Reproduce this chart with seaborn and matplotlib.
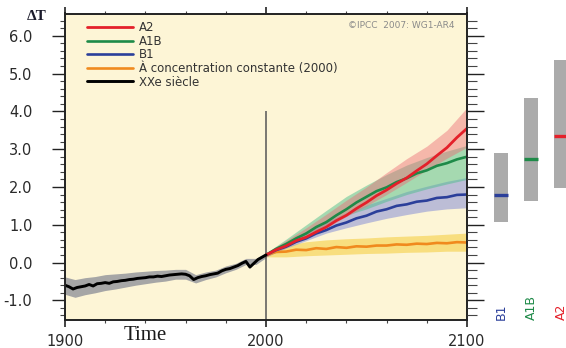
import matplotlib
matplotlib.use('Agg')
import matplotlib.pyplot as plt
from matplotlib.ticker import MultipleLocator, FormatStrFormatter
import seaborn as sns

# --- data ---
# 20th century observed record (every 2 years)
hist_years = list(range(1900, 2001, 2))
hist_temp = [-0.60, -0.64, -0.70, -0.66, -0.64, -0.62, -0.58, -0.62, -0.56, -0.55,
             -0.53, -0.55, -0.51, -0.50, -0.48, -0.47, -0.45, -0.44, -0.42, -0.41,
             -0.40, -0.38, -0.38, -0.36, -0.37, -0.35, -0.33, -0.32, -0.31, -0.30,
             -0.31, -0.35, -0.45, -0.40, -0.37, -0.35, -0.32, -0.30, -0.28, -0.22,
             -0.18, -0.16, -0.12, -0.08, -0.02, 0.03, -0.12, -0.02, 0.08, 0.14, 0.20]
hist_band_years = list(range(1900, 2001, 5))
hist_lo = [-0.84, -0.92, -0.85, -0.80, -0.74, -0.70, -0.65, -0.60, -0.56, -0.52, -0.49,
           -0.44, -0.44, -0.54, -0.45, -0.38, -0.27, -0.18, -0.05, -0.05, 0.13]
hist_hi = [-0.38, -0.45, -0.40, -0.37, -0.32, -0.30, -0.28, -0.25, -0.23, -0.21, -0.20,
           -0.18, -0.18, -0.32, -0.25, -0.20, -0.09, -0.02, 0.11, 0.11, 0.27]

# scenario means (every 5 years)
proj_years = list(range(2000, 2101, 5))
a2 = [0.20, 0.34, 0.44, 0.58, 0.67, 0.81, 0.94, 1.11, 1.25, 1.43, 1.59,
      1.77, 1.92, 2.09, 2.24, 2.43, 2.61, 2.83, 3.04, 3.31, 3.55]
a1b = [0.20, 0.36, 0.49, 0.64, 0.77, 0.94, 1.07, 1.25, 1.41, 1.59, 1.74,
       1.89, 1.99, 2.13, 2.23, 2.36, 2.44, 2.56, 2.63, 2.73, 2.80]
b1 = [0.20, 0.33, 0.42, 0.55, 0.64, 0.77, 0.86, 0.98, 1.06, 1.17, 1.24,
      1.35, 1.41, 1.50, 1.54, 1.61, 1.64, 1.71, 1.73, 1.79, 1.80]
const = [0.20, 0.28, 0.29, 0.34, 0.33, 0.38, 0.36, 0.41, 0.39, 0.43, 0.42,
         0.45, 0.45, 0.48, 0.47, 0.50, 0.49, 0.52, 0.51, 0.54, 0.53]

# +/- 1 sd ranges (every 10 years)
band_years = list(range(2000, 2101, 10))
a2_lo = [0.15, 0.40, 0.66, 0.92, 1.22, 1.50, 1.80, 2.12, 2.45, 2.76, 3.05]
a2_hi = [0.25, 0.58, 0.92, 1.28, 1.65, 2.00, 2.38, 2.75, 3.08, 3.50, 4.10]
a1b_lo = [0.15, 0.45, 0.72, 1.00, 1.25, 1.42, 1.62, 1.80, 1.95, 2.08, 2.20]
a1b_hi = [0.25, 0.62, 1.00, 1.38, 1.75, 2.05, 2.33, 2.58, 2.78, 2.95, 3.10]
b1_lo = [0.15, 0.38, 0.58, 0.78, 0.92, 1.05, 1.17, 1.27, 1.36, 1.42, 1.45]
b1_hi = [0.25, 0.55, 0.82, 1.08, 1.32, 1.52, 1.70, 1.88, 2.02, 2.15, 2.25]
const_lo = [0.15, 0.15, 0.18, 0.20, 0.22, 0.24, 0.25, 0.27, 0.28, 0.30, 0.30]
const_hi = [0.25, 0.45, 0.55, 0.60, 0.63, 0.65, 0.68, 0.70, 0.72, 0.75, 0.78]

# likely ranges at 2100 (bars on the right)
bar_labels = ['B1', 'A1B', 'A2']
bar_lo = [1.06, 1.64, 1.96]
bar_hi = [2.89, 4.36, 5.37]
bar_best = [1.79, 2.75, 3.36]

labels = ['A2', 'A1B', 'B1', 'À concentration constante (2000)', 'XXe siècle']

RED, GREEN, BLUE, ORANGE = '#E4202A', '#1E8A48', '#2B3F9A', '#F08A1E'

sns.set_style('ticks')
plt.rcParams['font.family'] = ['DejaVu Sans']

fig = plt.figure(figsize=(5.66, 3.48), dpi=100)
ax = fig.add_axes([65 / 566, 1 - 320 / 348, 402 / 566, 306.5 / 348])
ax.set_facecolor('#FDF5D6')

# uncertainty bands
ax.fill_between(hist_band_years, hist_lo, hist_hi, color='#A6A6A6', alpha=1.0, lw=0)
ax.fill_between(band_years, const_lo, const_hi, color='#F5CF45', alpha=0.6, lw=0)
ax.fill_between(band_years, b1_lo, b1_hi, color='#8890D6', alpha=0.55, lw=0)
ax.fill_between(band_years, a1b_lo, a1b_hi, color='#4EBE8C', alpha=0.5, lw=0)
ax.fill_between(band_years, a2_lo, a2_hi, color='#EC6C75', alpha=0.45, lw=0)

ax.vlines(2000, -2, 4.0, color='#555555', lw=1.1)

# scenario lines
sns.lineplot(x=proj_years, y=const, color=ORANGE, lw=1.9, label=labels[3], ax=ax)
sns.lineplot(x=proj_years, y=b1, color=BLUE, lw=1.9, label=labels[2], ax=ax)
sns.lineplot(x=proj_years, y=a1b, color=GREEN, lw=1.9, label=labels[1], ax=ax)
sns.lineplot(x=proj_years, y=a2, color=RED, lw=2.0, label=labels[0], ax=ax)
sns.lineplot(x=hist_years, y=hist_temp, color='black', lw=2.1, label=labels[4], ax=ax)

ax.set_xlim(1900, 2100)
ax.set_ylim(-1.52, 6.59)
ax.set_xticks([1900, 2000, 2100])
ax.xaxis.set_minor_locator(MultipleLocator(20))
ax.yaxis.set_major_locator(MultipleLocator(1.0))
ax.yaxis.set_minor_locator(MultipleLocator(0.2))
ax.yaxis.set_major_formatter(FormatStrFormatter('%.1f'))
ax.set_xlabel('')
ax.set_ylabel('')

for s in ax.spines.values():
    s.set_visible(True)
    s.set_linewidth(1.4)
    s.set_color('#222222')

ax.tick_params(axis='y', which='major', direction='out', length=9.5, width=1.0,
               left=True, right=False, labelsize=10.5, labelcolor='#2a2a2a', pad=14, color='#222222')
ax.tick_params(axis='y', which='minor', direction='out', length=3.6, width=0.8,
               left=True, right=False, color='#444444')
ax.tick_params(axis='x', which='major', direction='out', length=5, width=1.2,
               top=True, bottom=True, labelsize=10.5, labelcolor='#2a2a2a', pad=5, color='#222222')
ax.tick_params(axis='x', which='minor', direction='out', length=2.2, width=0.8,
               top=True, bottom=True, color='#444444')

# legend in the original order
handles, labs = ax.get_legend_handles_labels()
order = [labs.index(l) for l in labels]
leg = ax.legend([handles[i] for i in order], [labs[i] for i in order],
                loc='upper left', bbox_to_anchor=(0.055, 0.975), frameon=False,
                fontsize=8.5, handlelength=3.9, handletextpad=0.5,
                labelspacing=0.05, borderpad=0, borderaxespad=0)
for t in leg.get_texts():
    t.set_color('#333333')

ax.text(0.97, 0.962, '©IPCC  2007: WG1-AR4', transform=ax.transAxes,
        ha='right', va='center', fontsize=6.5, color='#8a8a8a')

fig.text(37 / 566, 1 - 16 / 348, 'ΔT', ha='center', va='center', fontsize=11,
         fontweight='bold', family='Liberation Serif', color='#1a1a2a')
fig.text(145 / 566, 1 - 336 / 348, 'Time', ha='center', va='center', fontsize=15,
         family='Liberation Serif', color='#1a1a1a')

# right-hand bars: likely range at 2100
ax2 = fig.add_axes([467 / 566, 1 - 320 / 348, 99 / 566, 306.5 / 348], sharey=ax)
ax2.set_facecolor('none')
for s in ax2.spines.values():
    s.set_visible(False)
ax2.set_xlim(-1.133, 2.167)
pos = list(range(len(bar_labels)))
heights = [h - l for h, l in zip(bar_hi, bar_lo)]
ax2.bar(pos, heights, bottom=bar_lo, width=0.47, color='#ABABAB', lw=0)
for i, (b, c) in enumerate(zip(bar_best, [BLUE, GREEN, RED])):
    ax2.hlines(b, i - 0.235, i + 0.235, color=c, lw=2.4)
    ax2.text(i, -1.52, bar_labels[i], rotation=90, ha='center', va='bottom',
             fontsize=9, color=c)
ax2.tick_params(axis='y', which='major', direction='in', length=12, width=1.0,
                left=True, labelleft=False, color='#222222')
ax2.tick_params(axis='y', which='minor', direction='in', length=7, width=0.8,
                left=True, color='#444444')
ax2.tick_params(axis='x', bottom=False, labelbottom=False)

fig.savefig('out.png', dpi=100)
